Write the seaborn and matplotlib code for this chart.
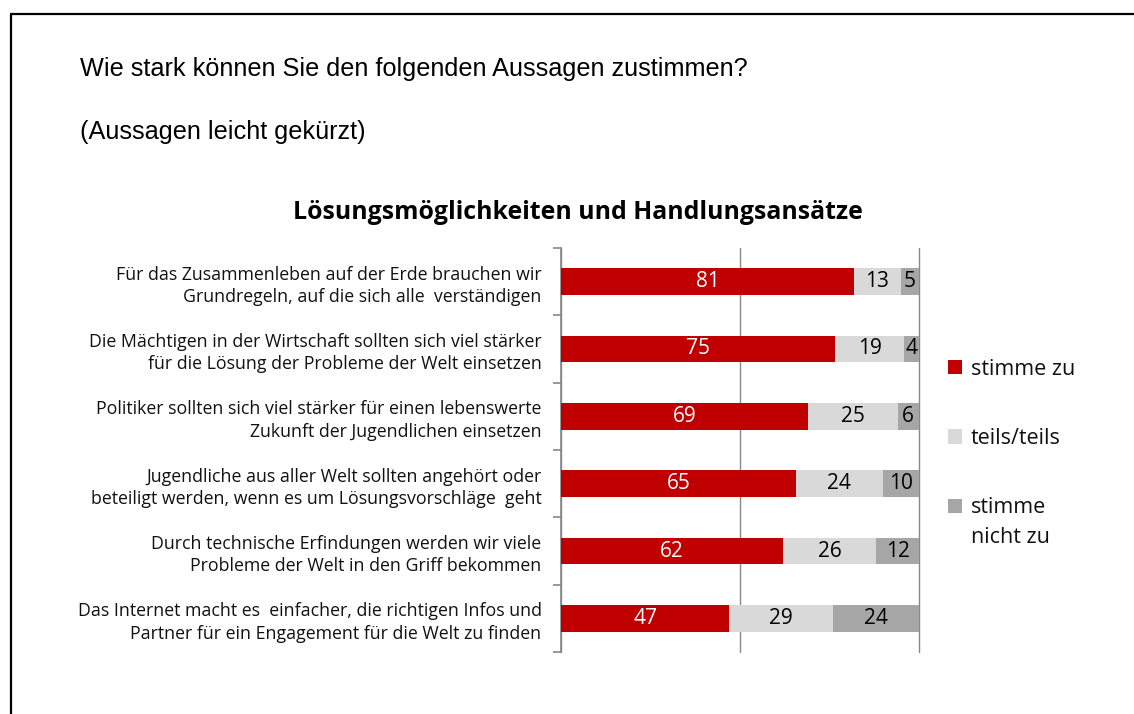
import matplotlib
matplotlib.use("Agg")
import matplotlib.pyplot as plt
from matplotlib.lines import Line2D
from matplotlib.patches import Patch
import seaborn as sns
import numpy as np
import pandas as pd

categories = [
    "Für das Zusammenleben auf der Erde brauchen wir\nGrundregeln, auf die sich alle  verständigen",
    "Die Mächtigen in der Wirtschaft sollten sich viel stärker\nfür die Lösung der Probleme der Welt einsetzen",
    "Politiker sollten sich viel stärker für einen lebenswerte\nZukunft der Jugendlichen einsetzen",
    "Jugendliche aus aller Welt sollten angehört oder\nbeteiligt werden, wenn es um Lösungsvorschläge  geht",
    "Durch technische Erfindungen werden wir viele\nProbleme der Welt in den Griff bekommen",
    "Das Internet macht es  einfacher, die richtigen Infos und\nPartner für ein Engagement für die Welt zu finden",
]
stimme_zu = [81, 75, 69, 65, 62, 47]
teils = [13, 19, 25, 24, 26, 29]
nicht_zu = [5, 4, 6, 10, 12, 24]
series_names = ["stimme zu", "teils/teils", "stimme"]
extra_line = "nicht zu"
colors = ["#C00000", "#D9D9D9", "#A6A6A6"]

sns.set_theme(style="white")
plt.rcParams["font.family"] = ["Open Sans", "DejaVu Sans"]

fig = plt.figure(figsize=(11.34, 7.14), dpi=100)
ax = fig.add_axes([0.4947, 0.0868, 0.3157, 0.5659])

df = pd.DataFrame({"cat": categories, "a": stimme_zu, "b": teils, "c": nicht_zu})
tot = df[["a", "b", "c"]].sum(axis=1)
sa = df["a"] / tot * 100
sb = df["b"] / tot * 100
sc = df["c"] / tot * 100
c1 = sa
c2 = sa + sb
c3 = sa + sb + sc

for vals, col in [(c3, colors[2]), (c2, colors[1]), (c1, colors[0])]:
    sns.barplot(x=vals.values, y=df["cat"], orient="h", color=col, width=0.4,
                saturation=1, ax=ax, edgecolor="none", zorder=3)

lefts = [np.zeros(len(df)), c1.values, c2.values]
shares = [sa.values, sb.values, sc.values]
raws = [stimme_zu, teils, nicht_zu]
txtcol = ["white", "black", "black"]
for k in range(3):
    for i in range(len(df)):
        ax.text(lefts[k][i] + shares[k][i] / 2, i, str(raws[k][i]), ha="center",
                va="center", fontsize=15, color=txtcol[k], zorder=5)

ax.set_xlim(0, 100)
ax.set_ylim(5.5, -0.5)
ax.set_xticks([0, 50, 100])
ax.set_xticklabels([])
ax.tick_params(axis="x", length=0)
ax.grid(axis="x", color="#888888", linewidth=1, zorder=0)
for gl in ax.get_xgridlines():
    gl.set_clip_on(False)
ax.grid(axis="y", visible=False)
for s in ["top", "right", "bottom"]:
    ax.spines[s].set_visible(False)
ax.spines["left"].set_color("#888888")
ax.spines["left"].set_linewidth(1.2)
ax.set_xlabel("")
ax.set_ylabel("")
ax.set_yticks(range(len(categories)))
ax.set_yticklabels(categories, fontsize=12.8, color="#111111", linespacing=1.3)
for t in ax.get_yticklabels():
    t.set_multialignment("right")
ax.tick_params(axis="y", which="major", length=0, pad=14)
ax.set_yticks(np.arange(-0.5, len(categories), 1), minor=True)
ax.tick_params(axis="y", which="minor", length=6, color="#888888", width=1.2, left=True)

fig.text(0.510, 0.702, "Lösungsmöglichkeiten und Handlungsansätze", ha="center",
         va="center", fontsize=17.9, fontweight="bold", color="black")
fig.text(0.0705, 0.903, "Wie stark können Sie den folgenden Aussagen zustimmen?",
         ha="left", va="center", fontsize=18.2, family="Liberation Sans", color="black")
fig.text(0.0705, 0.815, "(Aussagen leicht gekürzt)",
         ha="left", va="center", fontsize=18.2, family="Liberation Sans", color="black")

handles = [Patch(facecolor=c, edgecolor="none") for c in colors]
leg = fig.legend(handles, series_names, loc="upper left", bbox_to_anchor=(0.819, 0.525),
                 frameon=False, fontsize=15.5, handlelength=0.65, handleheight=0.65,
                 labelspacing=2.25, handletextpad=0.4)

fig.canvas.draw()
t3 = leg.get_texts()[2]
bb = t3.get_window_extent().transformed(fig.transFigure.inverted())
fig.text(bb.x0, bb.y0 - 30 / 714, extra_line, ha="left", va="bottom",
         fontsize=15.5, color="#111111")
for t in leg.get_texts():
    t.set_color("#111111")

fig.add_artist(Line2D([0.0097, 1.0], [0.980, 0.980], color="black", linewidth=1.6,
                      transform=fig.transFigure))
fig.add_artist(Line2D([0.0097, 0.0097], [0.0, 0.980], color="black", linewidth=1.6,
                      transform=fig.transFigure))

fig.savefig("out.png", dpi=100, facecolor="white")
